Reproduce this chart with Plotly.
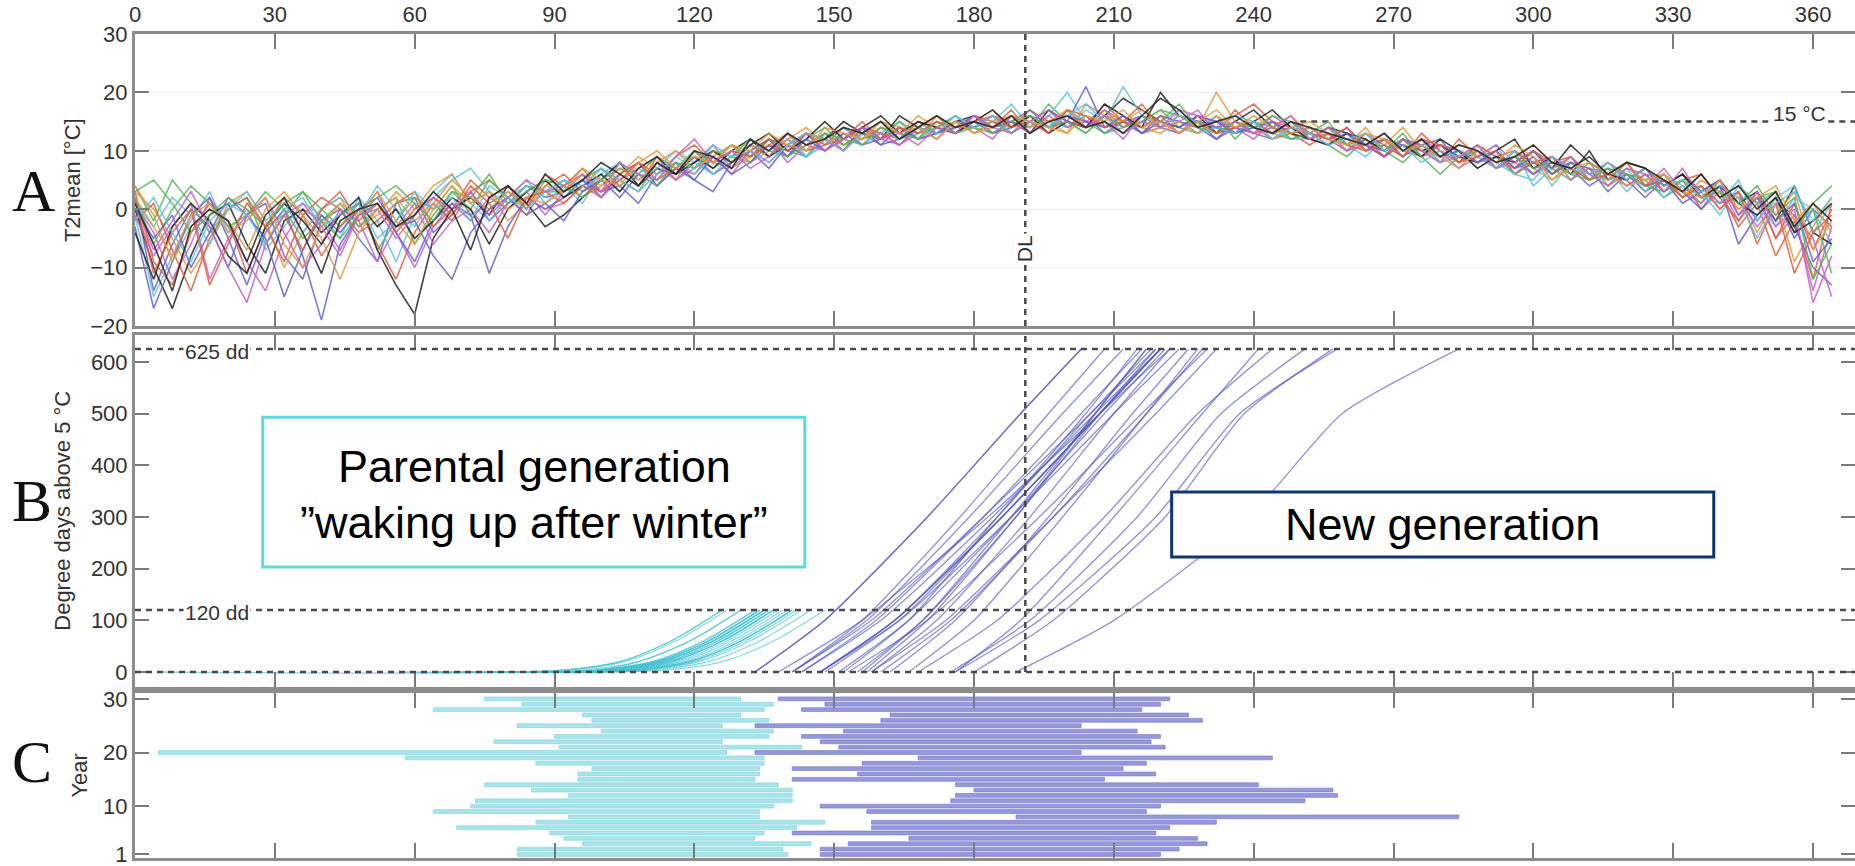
import plotly.graph_objects as go

# ---------------- Panel A: daily mean temperature (sampled every 4 days), one list per year ----------------
DAYS = list(range(0, 368, 4))

T01 = [2,-14,-6,0,-3,-10,-1,1,-8,-12,-2,0,-5,-9,1,2,-4,-1,3,-2,1,4,2,
       3,5,2,6,8,4,7,9,6,8,10,7,11,9,12,10,13,11,14,12,13,15,
       14,16,13,15,17,14,16,13,15,16,14,13,15,12,14,13,12,14,
       12,11,13,10,12,11,9,11,10,8,9,10,7,8,6,7,5,6,3,5,2,4,1,3,-2,2,-5,0,-3]
T02 = [4,-2,5,1,-4,0,2,-6,-1,3,0,-3,1,-7,-2,2,0,4,-1,1,3,0,5,
       2,4,7,5,3,8,6,10,7,9,8,12,10,9,13,11,12,14,12,15,13,14,
       16,13,15,14,18,15,13,16,14,15,17,14,13,16,12,15,13,12,
       13,11,9,12,10,8,11,9,10,7,9,6,8,7,5,8,4,6,5,2,4,1,5,-1,2,3,-4,1,4]
T03 = [3,-9,-13,-4,1,-2,-11,-3,2,-1,-8,-3,0,-6,-12,-4,1,-2,3,5,2,-1,4,
       6,3,5,8,4,9,7,6,10,8,11,9,12,10,11,14,12,13,11,14,16,13,
       15,14,17,13,15,16,14,18,15,13,14,16,15,13,17,14,12,13,
       11,13,10,12,9,11,10,8,12,9,7,10,8,6,9,5,7,4,6,3,5,0,3,-3,1,-8,-2,-12,1]
T04 = [-1,-15,-8,-2,3,-4,0,-7,-3,1,-1,-5,2,-2,-9,-1,3,6,1,-2,2,5,1,
       4,1,6,3,7,5,8,6,9,11,8,10,13,9,12,14,11,13,15,12,14,16,
       13,15,18,14,16,20,15,14,16,13,15,17,14,16,13,15,14,12,
       12,14,11,9,12,10,11,8,10,9,11,6,9,4,8,6,7,3,6,2,5,3,-1,4,1,-3,2,0,-6]
T05 = [1,-4,-12,-6,2,-3,-9,-14,-5,0,-2,-7,-1,3,-4,-10,-3,1,-2,2,0,3,-1,
       3,6,2,5,7,9,5,8,11,7,10,12,8,11,13,10,14,12,11,13,15,14,
       14,12,16,15,13,17,14,15,12,16,14,15,17,13,14,12,15,13,
       14,12,10,13,11,9,12,10,7,9,11,8,6,9,7,5,8,6,4,7,3,1,4,-2,2,-5,-1,-14,-3]
T06 = [3,0,-5,-11,-6,1,3,-2,-10,-4,0,2,-3,-1,3,0,4,6,1,3,-2,1,3,
       5,2,4,6,9,7,5,10,8,7,9,11,13,10,12,11,13,15,14,12,16,14,
       15,17,14,16,15,13,18,16,15,14,13,15,14,20,15,13,14,16,
       13,12,11,14,10,12,9,10,8,11,9,10,7,5,8,6,4,7,5,6,2,4,0,3,-4,2,-9,-3,2]
T07 = [0,-10,-17,-8,-1,1,-6,-11,-2,0,-4,-1,2,-7,-13,-18,-5,0,2,-1,4,1,-3,
       -1,2,5,8,4,7,6,9,7,10,12,9,11,13,12,15,13,12,16,14,13,15,
       16,14,15,13,17,15,14,16,19,17,15,14,16,13,15,17,14,13,
       12,14,13,11,9,12,10,11,9,8,10,12,7,9,6,10,5,8,7,4,6,3,5,1,3,-2,4,-4,-6]
T08 = [-3,-17,-9,-1,2,-5,-13,-4,0,-8,-19,-6,-1,1,-4,-9,-2,1,-1,-11,-3,2,0,
       2,5,3,4,1,6,8,5,3,8,10,12,9,13,10,12,14,11,12,14,13,15,
       15,13,14,16,14,15,21,14,15,13,16,15,14,12,15,14,13,15,
       13,12,14,11,12,9,11,12,8,10,7,9,6,8,7,4,6,5,2,5,3,0,4,-6,-1,2,-3,-10,-13]
T09 = [2,-6,0,4,1,-3,-1,3,0,-5,-2,1,-3,0,2,-6,-1,3,0,5,2,4,3,
       3,5,7,4,6,9,7,10,8,11,9,12,10,12,14,11,13,12,15,13,14,16,
       14,15,13,16,14,17,15,13,14,16,15,18,14,15,13,14,15,12,
       13,15,11,12,10,13,9,11,10,8,9,7,10,6,8,5,7,6,4,5,3,6,2,4,1,3,-3,0,-11]
T10 = [-2,1,-7,-14,-5,0,2,-3,-9,-1,2,0,-4,-2,1,3,-3,0,5,2,4,0,6,
       4,7,3,5,8,6,9,11,8,10,9,12,11,13,12,10,14,13,12,15,14,13,
       16,15,14,17,15,16,14,17,15,14,16,13,15,14,16,18,15,14,
       12,13,11,10,12,9,13,10,8,11,9,7,10,8,9,6,8,5,7,3,5,6,2,-2,3,-5,1,-7,0]
T11 = [1,-3,2,-1,-6,0,3,-2,1,-4,0,2,-1,4,0,-3,2,5,7,3,1,4,2,
       5,3,6,8,5,7,10,8,6,9,11,10,12,9,11,13,12,14,12,13,15,14,
       15,14,16,13,15,14,17,15,21,16,14,15,13,14,16,15,13,14,
       13,11,12,10,11,9,12,8,10,9,7,10,4,7,8,6,5,7,3,6,4,2,1,5,-2,2,4,-4,1]
T12 = [-1,-8,-3,1,-12,-5,-1,2,-4,-10,-6,0,-2,-9,-3,1,-6,-2,0,-4,1,2,0,
       1,4,2,6,4,8,5,7,9,6,10,8,11,13,10,12,14,13,11,14,12,15,
       14,16,15,13,16,14,15,17,14,16,15,13,16,15,14,13,16,14,
       13,12,10,11,13,10,9,11,10,8,9,7,8,9,5,7,6,4,6,5,3,4,1,2,-3,1,-1,-5,-15]
T13 = [4,-1,-9,-3,0,-2,-7,0,3,-1,-5,-12,-4,0,2,-2,1,5,2,0,3,1,4,
       3,6,4,7,5,8,10,7,9,11,8,10,12,14,11,13,12,14,13,16,14,15,
       13,15,16,14,15,17,14,16,15,17,14,15,13,16,14,15,12,14,
       15,13,12,10,11,14,10,9,11,10,8,9,11,8,6,7,5,8,4,6,2,5,3,0,2,-1,3,-7,-2]
T14 = [-4,-12,-3,1,-2,-8,-11,-3,1,-2,-6,-1,1,-3,0,-5,-2,2,0,-6,0,3,5,
       2,4,6,3,7,9,6,8,10,8,11,13,10,12,15,12,14,16,13,15,14,13,
       15,17,14,16,13,15,14,18,16,14,20,16,15,14,13,15,17,14,
       12,11,13,12,10,11,9,12,10,7,9,8,10,7,11,8,6,5,7,4,6,2,4,1,-1,2,-4,-2,1]
T15 = [0,-5,-1,-10,-4,2,-1,-5,-15,-7,-1,-4,0,2,-3,-2,-8,-12,-4,0,2,-1,1,
       -2,3,5,2,6,4,7,5,9,6,8,11,9,12,10,13,11,12,14,12,13,14,
       16,14,15,17,14,16,15,14,16,13,15,14,16,15,13,14,15,13,
       14,12,13,11,10,12,11,9,10,8,10,7,9,6,8,7,3,6,4,5,1,3,5,-1,2,-2,1,-9,-5]
T16 = [3,5,1,-4,-1,2,0,-3,1,3,-2,-5,-1,2,4,1,-2,3,2,6,1,3,5,
       4,2,5,7,6,4,8,7,10,9,12,10,9,11,13,12,11,14,13,12,15,13,
       14,13,15,16,14,15,13,16,14,15,17,16,14,13,15,14,16,15,
       12,14,11,13,10,12,9,6,9,10,8,9,7,8,6,5,7,6,4,3,5,2,3,1,4,-1,2,-12,-6]
T17 = [2,-11,-4,0,-13,-6,1,-3,-1,-7,0,3,-2,1,-4,0,2,-1,4,1,-5,2,3,
       1,4,3,6,8,5,7,9,8,10,9,11,10,13,11,12,15,12,14,13,15,14,
       15,16,14,15,13,17,16,14,15,18,14,16,15,13,14,15,13,14,
       13,12,14,10,11,9,12,11,8,9,10,6,8,9,7,5,6,8,4,5,2,4,0,3,-6,1,-11,-4,-1]
T18 = [-2,2,-4,-9,-2,1,-1,-6,0,2,-3,-1,1,-5,-2,3,0,2,-2,4,2,0,3,
       5,4,7,5,3,6,9,7,11,9,10,8,11,13,12,10,13,15,12,14,13,16,
       14,16,13,15,14,16,18,15,13,15,14,16,15,14,13,15,12,14,
       13,11,12,13,10,11,8,10,9,11,8,6,5,9,7,6,8,5,7,4,5,3,4,2,-5,1,3,-2,2]
T19 = [1,-7,-2,3,-3,-10,-16,-6,-1,1,-3,-8,-1,0,-5,-1,2,0,3,-1,2,5,3,
       4,6,3,8,6,5,9,12,8,10,7,9,13,11,10,12,14,12,13,11,14,13,
       16,14,13,15,17,15,14,16,13,15,14,17,16,14,15,13,14,16,
       12,14,12,11,9,12,10,8,9,11,7,8,10,7,9,6,4,7,6,3,7,2,5,-1,3,-3,0,-16,-8]
T20 = [2,-3,-8,-1,1,-4,-2,2,-6,-10,-3,1,-1,3,-2,-6,0,4,1,3,0,2,1,
       3,7,5,4,8,10,7,9,8,11,10,13,11,10,14,13,12,15,13,14,12,15,
       13,14,16,15,14,13,16,15,17,14,15,13,15,17,14,16,14,13,
       14,12,11,13,12,10,11,9,7,10,8,11,9,5,7,8,6,4,5,6,3,2,5,0,2,4,-2,1,-4]
T21 = [1,-6,-14,-3,0,-2,-9,-1,2,-4,-11,-2,0,1,-3,-1,3,0,-7,2,4,1,6,
       3,5,8,6,4,8,6,10,9,7,12,10,13,11,12,14,13,15,12,14,16,14,
       15,14,16,13,15,16,14,15,13,16,19,17,14,15,16,14,13,15,
       14,13,12,11,13,10,12,9,11,10,8,9,11,8,7,9,6,8,7,5,3,6,2,4,0,3,-3,1,-2]

TEMP_SERIES = [T01, T02, T03, T04, T05, T06, T07, T08, T09, T10, T11,
               T12, T13, T14, T15, T16, T17, T18, T19, T20, T21]
LINE_COLORS = ["#6464cf", "#5cb55c", "#e0603f", "#62c4e2", "#c566c5", "#e39a45", "#222222"]

# ---------------- Panel B / C: degree-day accumulation per year ----------------
YEARS = list(range(1, 31))
PAR_DD = [0, 3, 20, 60, 120]          # parental generation levels (dd)
PAR_DAYS = [                           # day of year reaching each level, years 1..30
    [82, 105, 118, 129, 140], [82, 104, 117, 128, 139], [96, 110, 123, 134, 145],
    [92, 98, 111, 122, 133], [89, 100, 113, 124, 135], [69, 107, 120, 131, 142],
    [86, 113, 126, 137, 148], [93, 99, 112, 123, 134], [64, 99, 112, 123, 134],
    [72, 102, 115, 126, 137], [73, 106, 119, 130, 141], [93, 106, 119, 130, 141],
    [85, 106, 119, 130, 141], [75, 103, 116, 127, 138], [95, 99, 111, 122, 133],
    [95, 100, 112, 123, 134], [98, 101, 112, 123, 134], [86, 100, 113, 124, 135],
    [58, 100, 113, 124, 135], [5, 92, 105, 116, 127], [91, 108, 121, 132, 143],
    [77, 91, 104, 115, 126], [90, 101, 114, 125, 136], [100, 104, 115, 126, 137],
    [82, 91, 104, 115, 126], [98, 102, 114, 125, 136], [96, 99, 108, 119, 130],
    [64, 100, 113, 124, 135], [83, 102, 115, 126, 137], [75, 95, 108, 119, 130]]
NEW_DD = [0, 100, 300, 500, 625]      # new generation levels (dd)
NEW_DAYS = [
    [147, 163, 186, 207, 220], [147, 164, 188, 210, 224], [153, 170, 194, 216, 230],
    [166, 180, 199, 217, 228], [141, 158, 182, 205, 219], [158, 172, 192, 210, 222],
    [158, 174, 197, 219, 232], [189, 210, 239, 259, 284], [157, 170, 189, 206, 217],
    [147, 163, 186, 207, 220], [175, 192, 215, 233, 251], [176, 194, 219, 237, 258],
    [180, 197, 221, 238, 257], [176, 190, 210, 229, 241], [141, 156, 177, 196, 208],
    [155, 169, 189, 207, 219], [141, 157, 179, 199, 212], [156, 169, 188, 206, 217],
    [168, 185, 208, 228, 244], [133, 148, 170, 190, 203], [151, 166, 188, 208, 221],
    [147, 163, 185, 205, 218], [143, 160, 184, 206, 220], [152, 166, 185, 204, 215],
    [133, 148, 170, 190, 203], [160, 175, 197, 217, 229], [162, 176, 196, 214, 226],
    [143, 159, 182, 203, 216], [148, 164, 186, 207, 220], [138, 156, 183, 207, 222]]

DL_DAY = 191
THRESH_T = 15
THRESH_DD = [625, 120, 0]
X_TICKS = list(range(0, 361, 30))

fig = go.Figure()

for i, ser in enumerate(TEMP_SERIES):
    fig.add_trace(go.Scatter(x=DAYS[:len(ser)], y=ser, mode="lines", xaxis="x", yaxis="y",
                             line=dict(color=LINE_COLORS[i % 7], width=1.6), opacity=0.85,
                             hoverinfo="skip", showlegend=False))

for row in PAR_DAYS:
    fig.add_trace(go.Scatter(x=row, y=PAR_DD, mode="lines", xaxis="x2", yaxis="y2",
                             line=dict(color="rgba(70,195,212,0.65)", width=1.3, shape="spline", smoothing=0.8),
                             hoverinfo="skip", showlegend=False))
for row in NEW_DAYS:
    fig.add_trace(go.Scatter(x=row, y=NEW_DD, mode="lines", xaxis="x2", yaxis="y2",
                             line=dict(color="rgba(80,86,185,0.62)", width=1.4, shape="spline", smoothing=0.6),
                             hoverinfo="skip", showlegend=False))

par_start = [r[0] for r in PAR_DAYS]
par_len = [r[-1] - r[0] for r in PAR_DAYS]
new_start = [r[0] for r in NEW_DAYS]
new_len = [r[-1] - r[0] for r in NEW_DAYS]
fig.add_trace(go.Bar(y=YEARS, x=par_len, base=par_start, orientation="h", xaxis="x3", yaxis="y3",
                     width=0.72, marker=dict(color="#a8e4ec", line=dict(color="#86d3de", width=0.6)),
                     hoverinfo="skip", showlegend=False))
fig.add_trace(go.Bar(y=YEARS, x=new_len, base=new_start, orientation="h", xaxis="x3", yaxis="y3",
                     width=0.72, marker=dict(color="#9598dc", line=dict(color="#7377c6", width=0.6)),
                     hoverinfo="skip", showlegend=False))

AX_LINE = "#8c8c8c"
TICKFONT = dict(family="Liberation Sans, Arial", size=22, color="#333")
common_x = dict(range=[0, 369], tickvals=X_TICKS, ticks="inside", ticklen=15, tickwidth=2,
                tickcolor="#7a7a7a", showline=True, linecolor=AX_LINE, linewidth=3, automargin=False,
                mirror="ticks", showgrid=False, zeroline=False, tickfont=TICKFONT, ticklabeloverflow="allow")
common_y = dict(ticks="inside", ticklen=14, tickwidth=2, tickcolor="#7a7a7a", showline=True,
                linecolor=AX_LINE, linewidth=3, mirror="ticks", zeroline=False, tickfont=TICKFONT,
                automargin=False, ticklabeloverflow="allow")

fig.update_layout(
    width=1855, height=866, margin=dict(l=135, r=0, t=0, b=0, pad=0, autoexpand=False),
    paper_bgcolor="white", plot_bgcolor="white", barmode="overlay", showlegend=False,
    xaxis=dict(common_x, anchor="y", side="top", showticklabels=True),
    yaxis=dict(common_y, anchor="x", domain=[0.6236, 0.9607], range=[-20, 30],
               tickvals=[-20, -10, 0, 10, 20, 30], showgrid=True, gridcolor="#ededed", gridwidth=1),
    xaxis2=dict(common_x, anchor="y2", showticklabels=False),
    yaxis2=dict(common_y, anchor="x2", domain=[0.2067, 0.6132], range=[-29, 652],
                tickvals=[0, 100, 200, 300, 400, 500, 600], showgrid=False),
    xaxis3=dict(common_x, anchor="y3", showticklabels=False),
    yaxis3=dict(common_y, anchor="x3", domain=[0.009, 0.1998], range=[0.3, 31.1],
                tickvals=[1, 10, 20, 30], showgrid=False),
)

DASH = dict(color="#4a4a4a", width=2.5, dash="6px,5px")
shapes = [
    dict(type="line", xref="x", yref="y", x0=DL_DAY, x1=DL_DAY, y0=-20, y1=30, line=DASH),
    dict(type="line", xref="x2", yref="y2", x0=DL_DAY, x1=DL_DAY, y0=0, y1=652, line=DASH),
    dict(type="line", xref="x", yref="y", x0=250, x1=369, y0=THRESH_T, y1=THRESH_T, line=DASH, layer="below"),
]
for v in THRESH_DD:
    shapes.append(dict(type="line", xref="x2", yref="y2", x0=0, x1=369, y0=v, y1=v, line=DASH))
shapes.append(dict(type="rect", xref="x2", yref="y2", x0=27.4, x1=143.7, y0=203, y1=493,
                   line=dict(color="#5fdada", width=3), fillcolor="white"))
shapes.append(dict(type="rect", xref="x2", yref="y2", x0=222.4, x1=338.7, y0=222.5, y1=348.3,
                   line=dict(color="#0b3670", width=3), fillcolor="white"))
fig.update_layout(shapes=shapes)

SMALL = dict(family="Liberation Sans, Arial", size=21, color="#333")
TITLE = dict(family="Liberation Sans, Arial", size=22, color="#333")
BIG = dict(family="Liberation Sans, Arial", size=45, color="black")
LETTER = dict(family="Liberation Serif, Times New Roman", size=60, color="#111")
ann = [
    dict(xref="x2", yref="y2", x=17.6, y=625, text="625 dd", showarrow=False, font=SMALL, bgcolor="white", yshift=-3),
    dict(xref="x2", yref="y2", x=17.6, y=120, text="120 dd", showarrow=False, font=SMALL, bgcolor="white", yshift=-3),
    dict(xref="x", yref="y", x=357, y=THRESH_T, text="15 °C", showarrow=False, font=SMALL, bgcolor="white", yshift=8),
    dict(xref="x", yref="y", x=DL_DAY, y=-6.8, text="DL", showarrow=False, font=SMALL, bgcolor="white", textangle=-90),
    dict(xref="x2", yref="y2", x=85.6, y=396.6, text="Parental generation", showarrow=False, font=BIG),
    dict(xref="x2", yref="y2", x=85.6, y=288.3, text="\u201dwaking up after winter\u201d", showarrow=False, font=BIG),
    dict(xref="x2", yref="y2", x=280.6, y=284.4, text="New generation", showarrow=False, font=BIG),
    dict(xref="paper", yref="y domain", x=-0.0360, y=0.5, xanchor="center", yanchor="middle",
         text="T2mean [°C]", textangle=-90, showarrow=False, font=TITLE),
    dict(xref="paper", yref="y2 domain", x=-0.0420, y=0.5, xanchor="center", yanchor="middle",
         text="Degree days above 5 °C", textangle=-90, showarrow=False, font=TITLE),
    dict(xref="paper", yref="y3 domain", x=-0.0320, y=0.5, xanchor="center", yanchor="middle",
         text="Year", textangle=-90, showarrow=False, font=TITLE),
    dict(xref="paper", yref="y", x=-0.0590, y=3.1, xanchor="center", yanchor="middle",
         text="A", showarrow=False, font=LETTER),
    dict(xref="paper", yref="y2", x=-0.0600, y=331, xanchor="center", yanchor="middle",
         text="B", showarrow=False, font=LETTER),
    dict(xref="paper", yref="y3", x=-0.0600, y=18.2, xanchor="center", yanchor="middle",
         text="C", showarrow=False, font=LETTER),
]
fig.update_layout(annotations=ann)

fig.write_html("out.html")
